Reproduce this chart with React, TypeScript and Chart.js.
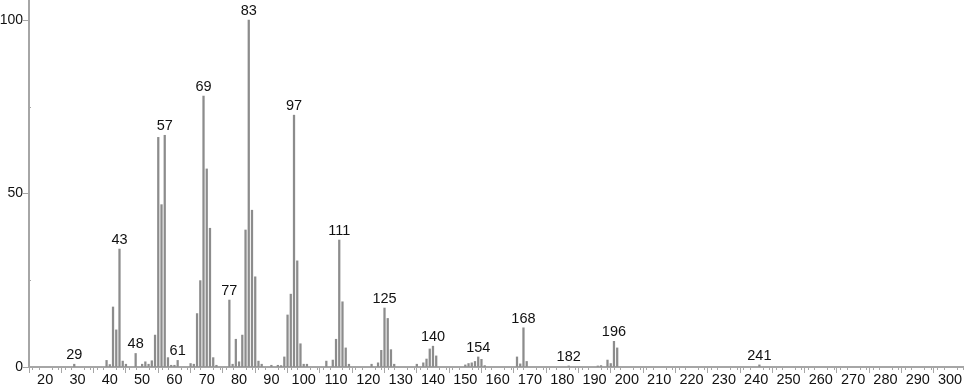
import React, { useEffect, useRef } from "react";
import { Chart, registerables } from "chart.js";

Chart.register(...registerables);

const mzValues = [
  29, 39, 40, 41, 42, 43, 44, 45, 48, 50, 51, 52, 53, 54, 55, 56, 57, 58, 59, 60, 61,
  65, 66, 67, 68, 69, 70, 71, 72, 73, 77, 78, 79, 80, 81, 82, 83, 84, 85, 86, 87,
  90, 92, 93, 94, 95, 96, 97, 98, 99, 100, 101, 107, 109, 110, 111, 112, 113, 114,
  121, 123, 124, 125, 126, 127, 128, 135, 137, 138, 139, 140, 141, 150, 151, 152,
  153, 154, 155, 156, 166, 167, 168, 169, 182, 191, 192, 194, 195, 196, 197, 241,
];
const intensities = [
  0.8, 1.9, 0.7, 17.3, 10.7, 34, 1.7, 0.8, 3.9, 0.8, 1.5, 0.8, 1.8, 9.2, 66.2, 46.8, 66.8, 2.7, 0.5, 0.5, 1.9,
  1, 0.8, 15.4, 24.9, 78.1, 57.1, 40, 2.7, 0.5, 19.3, 0.8, 8, 1.5, 9.2, 39.5, 100, 45.2, 26, 1.7, 0.8,
  0.5, 0.5, 0.4, 2.9, 15, 21, 72.6, 30.6, 6.7, 0.8, 0.8, 1.7, 2, 8, 36.6, 18.8, 5.5, 0.8,
  0.8, 1.2, 4.8, 17, 14, 5, 0.8, 0.8, 1.2, 2.3, 5.2, 6, 3.2, 0.6, 1, 1.2,
  1.6, 2.9, 2.2, 0.4, 2.9, 0.9, 11.3, 1.6, 0.3, 0.3, 0.4, 2, 1, 7.4, 5.5, 0.6,
];
const labeledPeaks = [29, 43, 48, 57, 61, 69, 77, 83, 97, 111, 125, 140, 154, 168, 182, 196, 241];
const xMajorTicks = [20, 30, 40, 50, 60, 70, 80, 90, 100, 110, 120, 130, 140, 150, 160, 170, 180, 190, 200, 210, 220, 230, 240, 250, 260, 270, 280, 290, 300];
const yTicks = [0, 25, 50, 75, 100];
const yLabeled = [0, 50, 100];

const AXIS = "#a6a6a6";
const BAR = "#8c8c8c";
const FONT = "'Liberation Sans', Arial, sans-serif";

const peakLabelPlugin = {
  id: "peakLabels",
  afterDatasetsDraw(chart: any) {
    const { ctx, scales } = chart;
    const xs = scales.x;
    const ys = scales.y;
    ctx.save();
    ctx.fillStyle = "#111";
    ctx.font = `14.5px ${FONT}`;
    ctx.textAlign = "center";
    ctx.textBaseline = "alphabetic";
    labeledPeaks.forEach((mz) => {
      const i = mzValues.indexOf(mz);
      if (i < 0) return;
      const px = xs.getPixelForValue(mz);
      const py = ys.getPixelForValue(intensities[i]);
      ctx.fillText(String(mz), px, py - 5);
    });
    ctx.restore();
  },
};

const minorTickPlugin = {
  id: "minorTicks",
  afterDraw(chart: any) {
    const { ctx, scales, chartArea } = chart;
    const xs = scales.x;
    const ys = scales.y;
    ctx.save();
    ctx.strokeStyle = AXIS;
    ctx.lineWidth = 1;
    for (let v = 16; v <= 304; v += 2) {
      if (v % 10 === 0) continue;
      const px = Math.round(xs.getPixelForValue(v)) + 0.5;
      ctx.beginPath();
      ctx.moveTo(px, chartArea.bottom);
      ctx.lineTo(px, chartArea.bottom + 3);
      ctx.stroke();
    }
    [25, 75].forEach((v) => {
      const py = Math.round(ys.getPixelForValue(v)) + 0.5;
      ctx.beginPath();
      ctx.moveTo(chartArea.left, py);
      ctx.lineTo(chartArea.left + 2, py);
      ctx.stroke();
    });
    ctx.restore();
  },
};

export default function App() {
  const ref = useRef<HTMLCanvasElement | null>(null);
  useEffect(() => {
    document.body.style.margin = "0";
    const canvas = ref.current;
    if (!canvas) return;
    const chart = new Chart(canvas, {
      type: "bar",
      data: {
        datasets: [
          {
            data: mzValues.map((m, i) => ({ x: m, y: intensities[i] })),
            backgroundColor: BAR,
            borderWidth: 0,
            barThickness: 1.6,
          } as any,
        ],
      },
      options: {
        responsive: false,
        animation: false,
        devicePixelRatio: 1,
        layout: { autoPadding: false, padding: { left: 0, right: 3, top: 0, bottom: 0 } },
        plugins: { legend: { display: false }, tooltip: { enabled: false } },
        scales: {
          x: {
            type: "linear",
            min: 15,
            max: 304,
            offset: false,
            afterBuildTicks: (s: any) => {
              s.ticks = xMajorTicks.map((v) => ({ value: v }));
            },
            afterFit: (s: any) => {
              s.height = 22;
              s.paddingLeft = 0;
              s.paddingRight = 0;
            },
            grid: { drawOnChartArea: false, drawTicks: true, tickLength: 6, color: AXIS, lineWidth: 1 },
            border: { color: AXIS, width: 2 },
            ticks: {
              color: "#111",
              font: { family: FONT, size: 14.5 },
              padding: -2,
              maxRotation: 0,
              autoSkip: false,
            },
          },
          y: {
            type: "linear",
            min: 0,
            max: 105.8,
            afterBuildTicks: (s: any) => {
              s.ticks = yTicks.map((v) => ({ value: v }));
            },
            afterFit: (s: any) => {
              s.width = 29;
              s.paddingTop = 0;
              s.paddingBottom = 0;
            },
            grid: {
              drawOnChartArea: false,
              drawTicks: true,
              tickLength: 6,
              color: (c: any) => (yLabeled.includes(c.tick?.value) ? AXIS : "rgba(0,0,0,0)"),
            },
            border: { color: AXIS, width: 2 },
            ticks: {
              color: "#111",
              font: { family: FONT, size: 14 },
              padding: 0,
              callback: (v: any) => (yLabeled.includes(Number(v)) ? String(v) : ""),
            },
          },
        },
      } as any,
      plugins: [peakLabelPlugin, minorTickPlugin],
    });
    return () => chart.destroy();
  }, []);
  return (
    <div style={{ width: 966, height: 389 }}>
      <canvas ref={ref} width={966} height={389} style={{ display: "block" }} />
    </div>
  );
}
